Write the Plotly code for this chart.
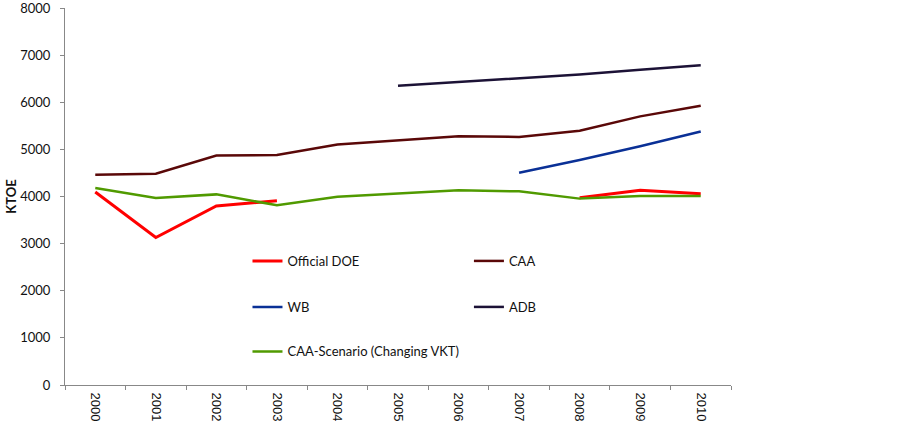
import plotly.graph_objects as go

years = ["2000", "2001", "2002", "2003", "2004", "2005", "2006", "2007", "2008", "2009", "2010"]
official_doe = [4095, 3130, 3800, 3910, None, None, None, None, 3975, 4130, 4060]
caa = [4460, 4485, 4870, 4880, 5105, 5195, 5280, 5265, 5395, 5700, 5925]
wb = [None, None, None, None, None, None, None, 4505, 4775, 5065, 5380]
adb = [None, None, None, None, None, 6350, 6425, 6505, 6590, 6690, 6785]
caa_scenario = [4180, 3970, 4045, 3815, 3995, 4065, 4130, 4110, 3955, 4010, 4010]
y_ticks = [0, 1000, 2000, 3000, 4000, 5000, 6000, 7000, 8000]

series = [
    ("Official DOE", official_doe, "#ff0000", 3, "legend", 0.274, 0.329),
    ("CAA", caa, "#5a0808", 2.5, "legend2", 0.6065, 0.329),
    ("WB", wb, "#0a3096", 2.5, "legend3", 0.274, 0.207),
    ("ADB", adb, "#1c1236", 2.5, "legend4", 0.6065, 0.207),
    ("CAA-Scenario (Changing VKT)", caa_scenario, "#509a00", 2.5, "legend5", 0.274, 0.089),
]

fig = go.Figure()
legends = {}
for name, vals, color, w, lg, lx, ly in series:
    fig.add_trace(go.Scatter(
        x=years, y=vals, mode="lines", name=name,
        line=dict(color=color, width=w), connectgaps=False, legend=lg,
    ))
    legends[lg] = dict(
        x=lx, y=ly, xanchor="left", yanchor="middle", bgcolor="rgba(0,0,0,0)",
        font=dict(family="Lato, Open Sans, sans-serif", size=13, color="#111"),
        itemwidth=30,
    )

fig.update_layout(
    width=902, height=428,
    margin=dict(l=65, r=171, t=8, b=43, autoexpand=False),
    paper_bgcolor="white", plot_bgcolor="white",
    showlegend=True,
    **legends,
    xaxis=dict(
        type="category", tickson="boundaries", ticks="outside", ticklen=4,
        range=[-0.5, 10.5], automargin=False,
        tickcolor="#888", showline=True, linecolor="#888", linewidth=1,
        showgrid=False, tickangle=90, ticklabelstandoff=4,
        tickfont=dict(family="Liberation Sans, Arial, sans-serif", size=13, color="#111"),
    ),
    yaxis=dict(
        range=[0, 8000], tickmode="array", tickvals=y_ticks, automargin=False,
        ticktext=[str(v) for v in y_ticks], ticklabeloverflow="allow",
        ticks="outside", ticklen=4, tickcolor="#888", ticklabelstandoff=7,
        showline=True, linecolor="#888", linewidth=1, showgrid=False, zeroline=False,
        tickfont=dict(family="Lato, Open Sans, sans-serif", size=13, color="#111"),
        title=dict(text="<b>KTOE</b>", standoff=0,
                   font=dict(family="Lato, Open Sans, sans-serif", size=13, color="#111")),
    ),
)

fig.write_html("out.html", config={"displayModeBar": False},
               post_script="document.body.style.margin='0';")
